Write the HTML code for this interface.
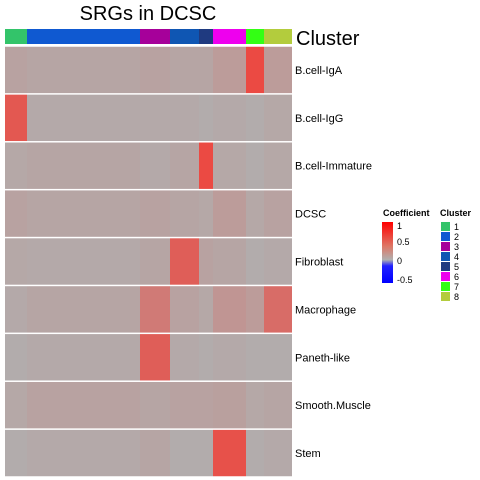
<!DOCTYPE html>
<html><head><meta charset="utf-8"><style>
body{margin:0;background:#fff;font-family:"Liberation Sans",sans-serif}
svg{display:block}
</style></head><body>
<svg id="c" width="480" height="480" viewBox="0 0 480 480">
<text x="148" y="20" font-size="20" text-anchor="middle">SRGs in DCSC</text>
<text x="296" y="45" font-size="20">Cluster</text>
<g id="bar"></g><g id="heat"></g><g id="labels"></g>
<text x="383" y="216" font-size="9" font-weight="bold">Coefficient</text>
<defs><linearGradient id="cg" x1="0" y1="0" x2="0" y2="1">
<stop offset="0" stop-color="#ff0000"/><stop offset="0.4" stop-color="#dd7766"/><stop offset="0.62" stop-color="#b0b0b0"/><stop offset="0.72" stop-color="#2020ff"/><stop offset="1" stop-color="#0000ff"/></linearGradient></defs>
<rect x="382" y="222" width="11" height="61" fill="url(#cg)"/>
<g font-size="9" fill="#000">
<text x="397" y="229">1</text><text x="397" y="245">0.5</text><text x="397" y="264">0</text><text x="397" y="283">-0.5</text></g>
<text x="440" y="216" font-size="9" font-weight="bold">Cluster</text>
<g id="leg"></g>
</svg>
<script>
const clusters=["1","2","3","4","5","6","7","8"];
const clusterColors=["#33c46a","#0f59d1","#a6009a","#0f56b3","#1f3a80","#ee00ee","#33ff14","#b3cc3d"];
const clusterEdges=[5,27,140,170,199,213,246,264,292];
const rows=["B.cell-IgA","B.cell-IgG","B.cell-Immature","DCSC","Fibroblast","Macrophage","Paneth-like","Smooth.Muscle","Stem"];
// mean coefficient per row per cluster
const values=[
[0.1,0.08,0.1,0.08,0.08,0.15,0.75,0.15],
[0.65,0.05,0.05,0.05,0.03,0.05,0.03,0.06],
[0.06,0.08,0.05,0.08,0.75,0.06,0.03,0.06],
[0.1,0.08,0.1,0.08,0.06,0.15,0.06,0.1],
[0.06,0.05,0.08,0.6,0.1,0.08,0.03,0.05],
[0.05,0.08,0.4,0.1,0.06,0.2,0.15,0.5],
[0.03,0.05,0.6,0.05,0.03,0.05,0.03,0.03],
[0.06,0.1,0.08,0.1,0.1,0.12,0.06,0.08],
[0.03,0.05,0.08,0.03,0.03,0.7,0.03,0.05]];
const NS="http://www.w3.org/2000/svg";
function col(v){const g=[176,176,176];let c;
 if(v>=0){const t=Math.min(v,1);c=[g[0]+(255-g[0])*t,g[1]*(1-t)+40*t,g[2]*(1-t)+30*t];}
 else{const t=Math.min(-v/0.5,1);c=[g[0]*(1-t),g[1]*(1-t),g[2]+(255-g[2])*t];}
 return `rgb(${c.map(Math.round).join(",")})`;}
const x0=5,x1=292,y0=46,y1=477,gap=1.5;
const rowH=(y1-y0)/rows.length;
const yOf=i=>y0+i*rowH;
const bar=document.getElementById("bar"),heat=document.getElementById("heat"),lab=document.getElementById("labels"),leg=document.getElementById("leg");
clusters.forEach((k,j)=>{const r=document.createElementNS(NS,"rect");
 r.setAttribute("x",clusterEdges[j]);r.setAttribute("y",29);r.setAttribute("width",clusterEdges[j+1]-clusterEdges[j]);r.setAttribute("height",15);r.setAttribute("fill",clusterColors[j]);
 
 
 bar.appendChild(r);
 const s=document.createElementNS(NS,"rect");
 s.setAttribute("x",441);s.setAttribute("y",222+j*10);s.setAttribute("width",9);s.setAttribute("height",9);s.setAttribute("fill",clusterColors[j]);
 
 
 leg.appendChild(s);
 const t=document.createElementNS(NS,"text");
 t.setAttribute("x",454);t.setAttribute("y",230+j*10);t.setAttribute("font-size","9");t.textContent=k;
 
 
 leg.appendChild(t);});
rows.forEach((name,i)=>{values[i].forEach((v,j)=>{const r=document.createElementNS(NS,"rect");
 r.setAttribute("x",clusterEdges[j]);r.setAttribute("y",yOf(i)+gap/2);r.setAttribute("width",clusterEdges[j+1]-clusterEdges[j]);r.setAttribute("height",rowH-gap);r.setAttribute("fill",col(v));
 
 
 heat.appendChild(r);});
 const t=document.createElementNS(NS,"text");
 t.setAttribute("x",295);t.setAttribute("y",yOf(i)+rowH/2+4);t.setAttribute("font-size","11");t.textContent=name;
 
 
 lab.appendChild(t);});
</script>
</body></html>
